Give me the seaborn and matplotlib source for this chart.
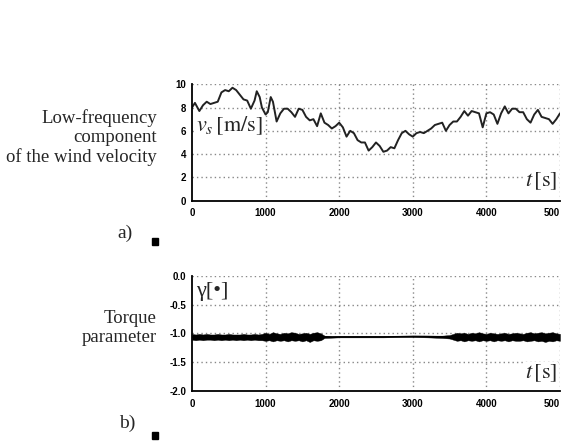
import numpy as np
import pandas as pd
import matplotlib
matplotlib.use("Agg")
import matplotlib.pyplot as plt
import seaborn as sns
from matplotlib.patches import Rectangle

# --- a) low-frequency wind velocity ---
t_wind = [0, 40, 100, 150, 200, 250, 300, 350, 400, 450, 500, 550, 600, 650, 700,
          750, 800, 850, 880, 920, 950, 1000, 1030, 1070, 1100, 1150, 1200, 1250,
          1300, 1350, 1400, 1450, 1500, 1550, 1600, 1650, 1700, 1750, 1800, 1850,
          1900, 1950, 2000, 2050, 2100, 2150, 2200, 2250, 2300, 2350, 2400, 2450,
          2500, 2550, 2600, 2650, 2700, 2750, 2800, 2850, 2900, 2950, 3000, 3050,
          3100, 3150, 3200, 3250, 3300, 3350, 3400, 3450, 3500, 3550, 3600, 3650,
          3700, 3750, 3800, 3850, 3900, 3950, 4000, 4050, 4100, 4150, 4200, 4250,
          4300, 4350, 4400, 4450, 4500, 4550, 4600, 4650, 4700, 4750, 4800, 4850,
          4900, 4950, 5000]
v_wind = [8.0, 8.4, 7.7, 8.2, 8.5, 8.3, 8.4, 8.5, 9.3, 9.5, 9.4, 9.7, 9.5, 9.1, 8.7,
          8.6, 7.9, 8.6, 9.4, 8.9, 8.0, 7.4, 7.6, 8.9, 8.5, 6.8, 7.5, 7.9,
          7.9, 7.6, 7.2, 7.9, 7.8, 7.2, 6.9, 7.0, 6.4, 7.5, 6.7, 6.5,
          6.2, 6.4, 6.7, 6.3, 5.5, 6.0, 5.8, 5.2, 5.0, 5.0, 4.3, 4.6,
          5.0, 4.7, 4.2, 4.3, 4.6, 4.5, 5.2, 5.8, 6.0, 5.7, 5.5, 5.8,
          5.9, 5.8, 6.0, 6.2, 6.5, 6.6, 6.7, 6.0, 6.5, 6.8, 6.8, 7.2,
          7.7, 7.3, 7.7, 7.6, 7.5, 6.3, 7.5, 7.6, 7.4, 6.6, 7.5, 8.1,
          7.5, 7.9, 7.9, 7.6, 7.6, 7.0, 6.7, 7.4, 7.8, 7.2, 7.1, 7.0,
          6.6, 7.0, 7.5]

# --- b) torque parameter: envelope of the dense oscillation band ---
t_band = [0, 50, 100, 150, 200, 250, 300, 350, 400, 450, 500, 550, 600, 650, 700,
          750, 800, 850, 900, 950, 1000, 1050, 1100, 1150, 1200, 1250, 1300, 1350,
          1400, 1450, 1500, 1550, 1600, 1650, 1700, 1750, 1800, 1900, 2000, 2200,
          2400, 2600, 2800, 3000, 3200, 3400, 3500, 3550, 3600, 3650, 3700, 3750,
          3800, 3850, 3900, 3950, 4000, 4050, 4100, 4150, 4200, 4250, 4300, 4350,
          4400, 4450, 4500, 4550, 4600, 4650, 4700, 4750, 4800, 4850, 4900, 4950, 5000]
band_hi = [-1.01, -1.02, -1.01, -1.02, -1.01, -1.02, -1.02, -1.01, -1.02, -1.02,
           -1.01, -1.02, -1.02, -1.02, -1.01, -1.02, -1.02, -1.01, -1.02, -1.01,
           -0.99, -1.01, -0.98, -1.00, -1.01, -0.99, -1.00, -0.98, -0.99, -1.01,
           -1.00, -0.99, -1.01, -0.99, -0.98, -1.00, -1.04, -1.05, -1.05, -1.05,
           -1.05, -1.05, -1.05, -1.04, -1.04, -1.04, -1.03, -1.01, -0.99, -1.00,
           -0.99, -1.01, -0.99, -1.00, -0.98, -1.00, -1.01, -0.99, -1.00, -1.01,
           -1.00, -0.99, -1.01, -1.00, -0.99, -1.00, -1.01, -0.99, -0.98, -1.00,
           -0.99, -0.98, -1.00, -0.99, -0.98, -1.00, -1.01]
band_lo = [-1.11, -1.12, -1.11, -1.12, -1.11, -1.11, -1.12, -1.11, -1.12, -1.11,
           -1.12, -1.11, -1.12, -1.11, -1.12, -1.11, -1.12, -1.11, -1.12, -1.12,
           -1.13, -1.12, -1.14, -1.12, -1.13, -1.12, -1.14, -1.12, -1.13, -1.12,
           -1.14, -1.12, -1.15, -1.12, -1.13, -1.12, -1.08, -1.075, -1.07, -1.07,
           -1.07, -1.07, -1.065, -1.065, -1.07, -1.08, -1.09, -1.11, -1.13, -1.12,
           -1.14, -1.12, -1.13, -1.12, -1.14, -1.12, -1.13, -1.12, -1.14, -1.12,
           -1.13, -1.12, -1.14, -1.12, -1.13, -1.13, -1.12, -1.14, -1.13, -1.12,
           -1.14, -1.13, -1.15, -1.13, -1.14, -1.12, -1.13]

x_ticks = [0, 1000, 2000, 3000, 4000, 5000]
x_labels = ["0", "1000", "2000", "3000", "4000", "500"]
top_yticks = [0, 2, 4, 6, 8, 10]
bot_yticks = [-2.0, -1.5, -1.0, -0.5, 0.0]

sns.set_style("white")
plt.rcParams["mathtext.fontset"] = "stix"
serif = ["Liberation Serif", "DejaVu Serif"]
tickfont = {"family": ["Liberation Sans Narrow", "Liberation Sans", "DejaVu Sans"],
            "weight": "bold", "size": 7}

fig = plt.figure(figsize=(5.65, 4.43), dpi=100)
ax1 = fig.add_axes([0.3398, 0.547, 0.6513, 0.2628])
ax2 = fig.add_axes([0.3398, 0.1174, 0.6513, 0.2603])


def style_axes(ax, yticks, ylim, yminor, ylab_fmt):
    ax.set_xlim(0, 5000)
    ax.set_ylim(*ylim)
    for s in ["top", "right"]:
        ax.spines[s].set_visible(False)
    for s in ["left", "bottom"]:
        ax.spines[s].set_color("black")
        ax.spines[s].set_linewidth(1.3)
    ax.set_xticks(x_ticks)
    ax.set_xticklabels(x_labels, fontdict=tickfont)
    ax.get_xticklabels()[-1].set_horizontalalignment("right")
    ax.set_xticks(np.arange(500, 5000, 1000), minor=True)
    ax.set_yticks(yticks)
    ax.set_yticklabels([ylab_fmt(v) for v in yticks], fontdict=tickfont)
    ax.set_yticks(yminor, minor=True)
    ax.tick_params(axis="x", which="both", direction="inout", length=5, width=1,
                   colors="black", pad=3)
    ax.tick_params(axis="y", which="both", direction="out", length=3, width=1,
                   colors="black", pad=1)
    for x in x_ticks[1:]:
        ax.axvline(x, color="#888888", linestyle=(0, (1, 2.2)), linewidth=1.0, zorder=0)
    for y in yticks[1:]:
        ax.axhline(y, color="#888888", linestyle=(0, (1, 2.2)), linewidth=1.0, zorder=0)
    ax.set_xlabel("")
    ax.set_ylabel("")


# a) wind velocity
wind = pd.DataFrame({"t": t_wind, "v": v_wind})
sns.lineplot(data=wind, x="t", y="v", ax=ax1, color="#222222", linewidth=1.4)
style_axes(ax1, top_yticks, (0, 10), np.arange(1, 10, 2), lambda v: f"{v:d}")
ax1.text(60, 6.4, r"$v_s\,\left[\mathrm{m/s}\right]$", fontsize=16, va="center",
         ha="left", bbox=dict(facecolor="white", edgecolor="none", pad=0.5), zorder=3)
ax1.text(4960, 1.7, r"$t\,\left[\mathrm{s}\right]$", fontsize=16, va="center", ha="right",
         bbox=dict(facecolor="white", edgecolor="none", pad=0.5), zorder=3)

# b) torque parameter
ax2.fill_between(t_band, band_lo, band_hi, color="black", linewidth=0.3,
                 edgecolor="black")
band = pd.DataFrame({"t": t_band, "g": [(a + b) / 2 for a, b in zip(band_hi, band_lo)]})
sns.lineplot(data=band, x="t", y="g", ax=ax2, color="black", linewidth=1.0)
style_axes(ax2, bot_yticks, (-2.0, 0.0), np.arange(-1.75, 0, 0.5), lambda v: f"{v:.1f}")
ax2.text(60, -0.27, "γ[•]", family=serif, fontsize=16, va="center", ha="left",
         bbox=dict(facecolor="white", edgecolor="none", pad=0.5), zorder=3)
ax2.text(4960, -1.69, r"$t\,\left[\mathrm{s}\right]$", fontsize=16, va="center",
         ha="right", bbox=dict(facecolor="white", edgecolor="none", pad=0.5), zorder=3)

# side labels
fig.text(157 / 565, 1 - 138 / 443, "Low-frequency\ncomponent\nof the wind velocity",
         family=serif, fontsize=13.5, ha="right", va="center", multialignment="right",
         linespacing=1.15)
fig.text(157 / 565, 1 - 328 / 443, "Torque\nparameter", family=serif, fontsize=13.5,
         ha="right", va="center", multialignment="right", linespacing=1.15)
fig.text(125 / 565, 1 - 233 / 443, "a)", family=serif, fontsize=14, ha="center", va="center")
fig.text(127 / 565, 1 - 423 / 443, "b)", family=serif, fontsize=14, ha="center", va="center")
for ysq in [245, 439]:
    fig.patches.append(Rectangle((152 / 565, 1 - ysq / 443), 6 / 565, 7 / 443,
                                 transform=fig.transFigure, color="black"))

fig.savefig("out.png", dpi=100)
